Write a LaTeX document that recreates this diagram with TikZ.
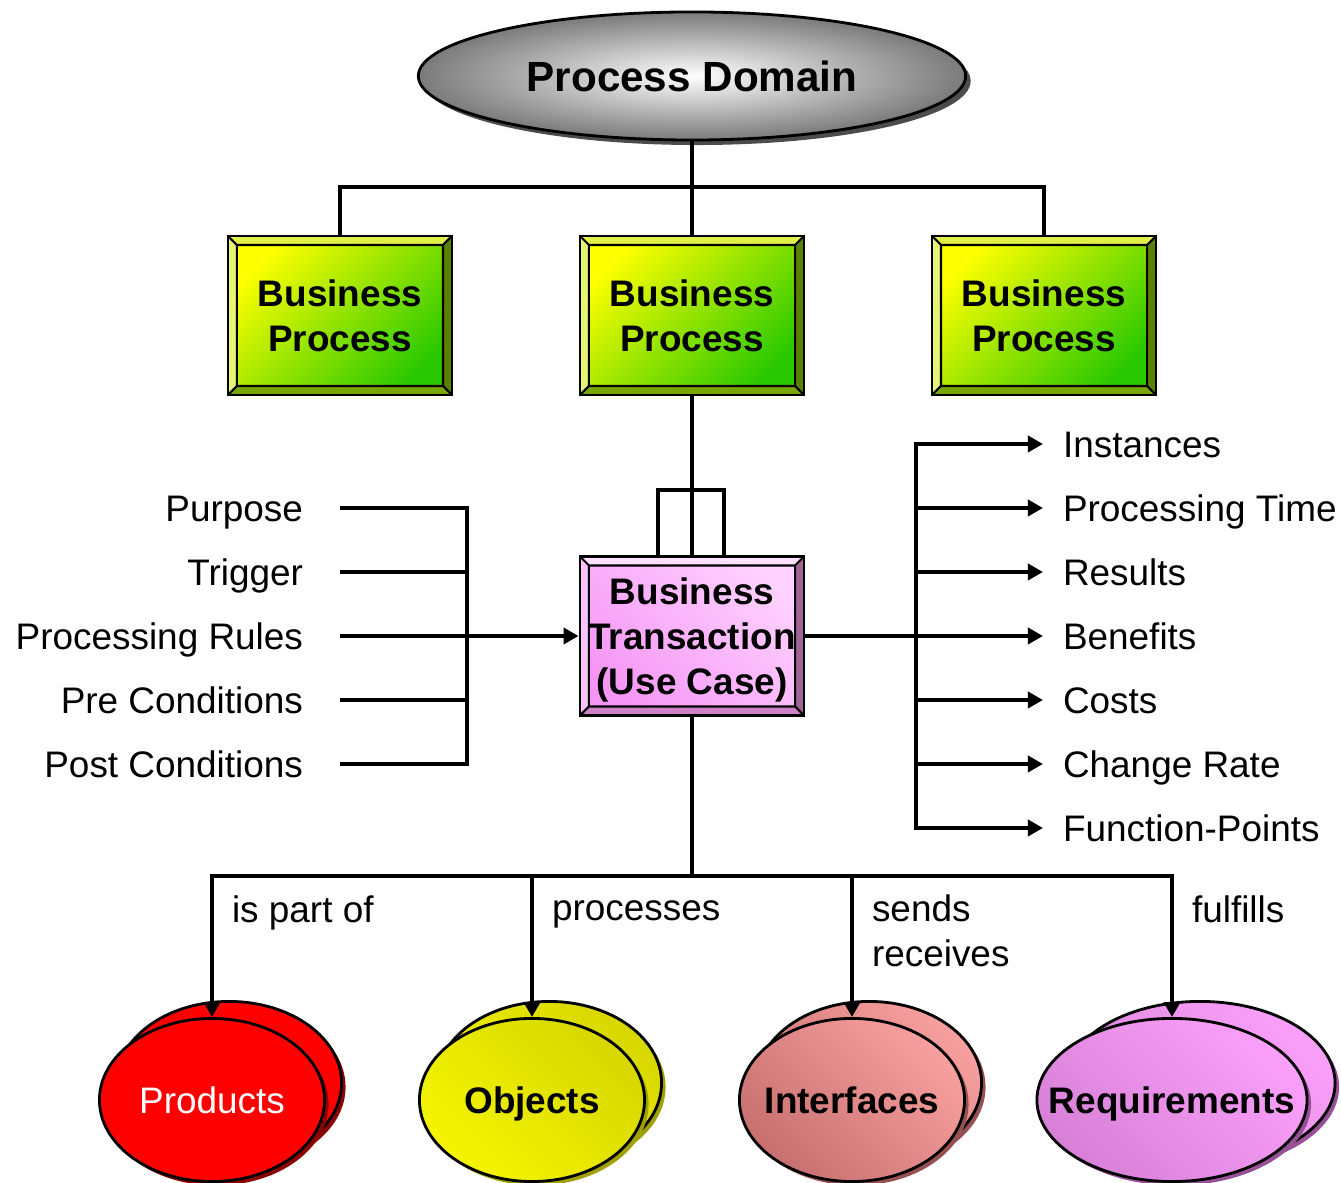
\documentclass[tikz,border=0pt]{standalone}
\usepackage{fontspec}
\setmainfont{Liberation Sans}
\usetikzlibrary{positioning,shapes.geometric,arrows.meta}
\definecolor{bpyel}{RGB}{255,255,0}
\definecolor{bpgrn}{RGB}{40,200,0}
\definecolor{bvtopg}{RGB}{225,240,70}
\definecolor{bvleftg}{RGB}{230,245,120}
\definecolor{bvrightg}{RGB}{90,130,0}
\definecolor{bvbotg}{RGB}{120,165,0}
\definecolor{btlt}{RGB}{255,210,255}
\definecolor{btdk}{RGB}{245,150,245}
\definecolor{bvtopp}{RGB}{255,225,255}
\definecolor{bvleftp}{RGB}{250,195,250}
\definecolor{bvrightp}{RGB}{160,100,150}
\definecolor{bvbotp}{RGB}{205,130,200}
\definecolor{prsh}{RGB}{140,0,0}
\definecolor{objlt}{RGB}{245,245,0}
\definecolor{objdk}{RGB}{215,215,0}
\definecolor{objsh}{RGB}{160,160,0}
\definecolor{ifdk}{RGB}{200,112,112}
\definecolor{iflt}{RGB}{248,160,160}
\definecolor{ifsh}{RGB}{150,80,80}
\definecolor{rqdk}{RGB}{216,128,216}
\definecolor{rqlt}{RGB}{250,160,250}
\definecolor{rqsh}{RGB}{150,80,150}
\begin{document}
\begin{tikzpicture}
	[x=0.01cm, y=-0.01cm, line width=1.15pt,
	every node/.style={font=\fontsize{10.5}{12.8}\selectfont},
	heavy/.style={font=\bfseries\fontsize{10.5}{12.8}\selectfont},
	lbl/.style={inner sep=0pt, text height=0.28cm, text depth=0pt},
	arr/.style={-{Triangle[length=0.15cm,width=0.16cm]}},
	bevel/.style n args={4}{path picture={
		\coordinate (o1) at (path picture bounding box.south west);
		\coordinate (o2) at (path picture bounding box.south east);
		\coordinate (o3) at (path picture bounding box.north east);
		\coordinate (o4) at (path picture bounding box.north west);
		\coordinate (i1) at ([shift={(.09cm,.09cm)}]o1);
		\coordinate (i2) at ([shift={(-.09cm,.09cm)}]o2);
		\coordinate (i3) at ([shift={(-.09cm,-.09cm)}]o3);
		\coordinate (i4) at ([shift={(.09cm,-.09cm)}]o4);
		\fill[#1] (o4) -- (o3) -- (i3) -- (i4) -- cycle;
		\fill[#2] (o1) -- (o4) -- (i4) -- (i1) -- cycle;
		\fill[#3] (o2) -- (o3) -- (i3) -- (i2) -- cycle;
		\fill[#4] (o1) -- (o2) -- (i2) -- (i1) -- cycle;
		\draw[line width=0.6pt] (i1) rectangle (i3) (o1) -- (i1) (o2) -- (i2) (o3) -- (i3) (o4) -- (i4);
	}},
	bbox/.style={rectangle, draw, line width=0.8pt, minimum width=2.24cm, minimum height=1.59cm, inner sep=0pt, align=center, heavy},
	bproc/.style={bbox, left color=bpyel, right color=bpgrn, shading angle=45, bevel={bvtopg}{bvleftg}{bvrightg}{bvbotg}},
	btrans/.style={bbox, text depth=0pt, left color=btdk, right color=btlt, shading angle=135, bevel={bvtopp}{bvleftp}{bvrightp}{bvbotp}},
	pdom/.style={ellipse, draw, line width=0.8pt, minimum width=5.47cm, minimum height=1.28cm, inner sep=0pt, inner color=white, outer color=black!52,
		font=\bfseries\fontsize{12}{14}\selectfont, preaction={fill=black!70, transform canvas={shift={(0.05cm,-0.05cm)}}}},
	blob/.style n args={5}{ellipse, draw, line width=0.8pt, minimum width=#1, minimum height=1.63cm, inner sep=0pt,
		text height=0.27cm, text depth=0pt,
		preaction={fill=#4, transform canvas={shift={(#5+0.04cm,0.13cm)}}},
		preaction={draw, left color=#2, right color=#3, shading angle=135, transform canvas={shift={(#5,0.17cm)}}},
		preaction={fill=#4, transform canvas={shift={(0.04cm,-0.04cm)}}},
		left color=#2, right color=#3, shading angle=135}]
	\useasboundingbox (0,0) rectangle (1341,1183);
	\node[pdom] (dom) at (692,76) {Process Domain};
	\node[bproc] (bp2) at (692,315.5) {Business\\Process};
	\node[bproc, left=1.25cm of bp2] (bp1) {Business\\Process};
	\node[bproc, right=1.25cm of bp2] (bp3) {Business\\Process};
	\node[btrans] (bt) at (692,636) {Business\\Transaction\\(Use Case)};
	\coordinate (tj) at (692,187);
	\draw (dom) -- (tj);
	\draw (tj) -| (bp1.north);
	\draw (tj) -| (bp3.north);
	\draw (tj) -- (bp2.north);
	\draw (bp2.south) -- (bt.north);
	\coordinate (brk) at (692,490);
	\draw ([xshift=-.34cm]bt.north) |- ([xshift=.32cm]brk) -- ([xshift=.32cm]bt.north);
	\foreach \n/\t [count=\i] in {purp/Purpose, trig/Trigger, rules/Processing Rules, pre/Pre Conditions, post/Post Conditions}
		\node[lbl, anchor=east] (\n) at (305,444+64*\i) {\t};
	\coordinate (lj) at (467,636);
	\foreach \n in {purp,trig,pre,post}
		\draw ([xshift=.35cm]\n.east) -| (lj);
	\draw[arr] ([xshift=.35cm]rules.east) -- (bt.west);
	\foreach \n/\t [count=\i] in {inst/Instances, ptime/Processing Time, res/Results, ben/Benefits, cost/Costs, crate/Change Rate, fp/Function-Points}
		\node[lbl, anchor=west] (\n) at (1061,380+64*\i) {\t};
	\coordinate (rj) at (916,636);
	\draw (bt.east) -- (rj);
	\foreach \n in {inst,ptime,res,ben,cost,crate,fp}
		\draw[arr] (rj) |- ([xshift=-.18cm]\n.west);
	\node[blob={2.25cm}{red}{red}{prsh}{0.17cm}, text=white] (prod) at (212,1100) {\makebox[0pt]{Products}};
	\node[blob={2.25cm}{objlt}{objdk}{objsh}{0.17cm}, heavy] (obj) at (532,1100) {\makebox[0pt]{Objects}};
	\node[blob={2.25cm}{ifdk}{iflt}{ifsh}{0.17cm}, heavy] (intf) at (852,1100) {\makebox[0pt]{Interfaces}};
	\node[blob={2.7cm}{rqdk}{rqlt}{rqsh}{0.28cm}, heavy] (req) at (1172,1100) {\makebox[0pt]{Requirements}};
	\coordinate (bj) at (692,876);
	\draw (bt.south) -- (bj);
	\foreach \n in {prod,obj,intf,req}
		\draw[arr] (bj) -| (\n.north);
	\node[lbl, anchor=base west] (partof) at (230,923) {is part of};
	\node[lbl, anchor=base west] (procs) at (550,921) {processes};
	\node[inner sep=0pt, anchor=north west, align=left] (sendrec) at (870,893) {sends\\receives};
	\node[lbl, anchor=base west] (fulf) at (1190,923) {fulfills};
\end{tikzpicture}
\end{document}
